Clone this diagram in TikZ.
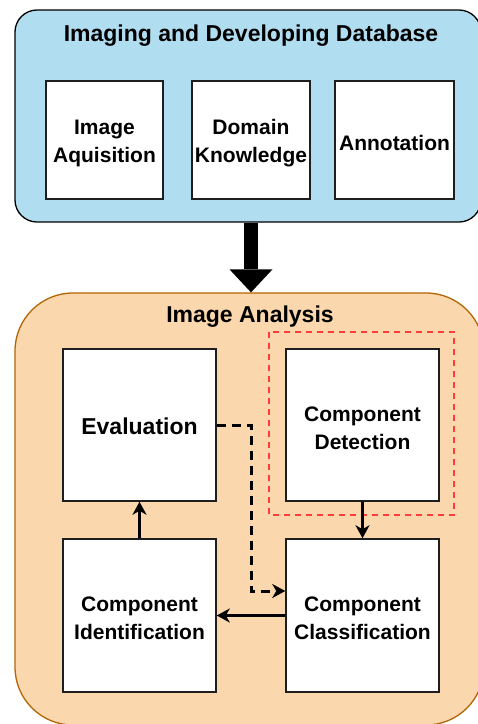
\documentclass[tikz,border=0pt]{standalone}
\usepackage{fontspec}
\setmainfont{Liberation Sans}
\usetikzlibrary{arrows.meta}
\definecolor{dbfill}{HTML}{B1DDF0}
\definecolor{iafill}{HTML}{FAD7AC}
\definecolor{iadraw}{HTML}{B46504}
\definecolor{hilite}{HTML}{FF3B3B}
\definecolor{boxline}{HTML}{1E1E1E}
\tikzset{
  panel/.style={rounded corners=#1, line width=1.3pt},
  stagebox/.style={draw=boxline, fill=white, line width=1.5pt, inner sep=0pt},
  boxtext/.style={align=center, inner sep=0pt, yshift=-3pt,
    font=\fontsize{21}{28}\selectfont\bfseries},
  paneltitle/.style={inner sep=0pt, font=\fontsize{23}{28}\selectfont\bfseries},
  flow/.style={line width=2.8pt, -{Stealth[length=13pt,width=14pt,inset=4pt]}},
  dashflow/.style={flow, line width=3pt, dash pattern=on 9pt off 6pt},
}
\begin{document}
\begin{tikzpicture}[x=1pt, y=-1pt]
\useasboundingbox (0,0) rectangle (478,724);
\clip (0,0) rectangle (478,724);

% database panel
\node[panel=22pt, draw=black, fill=dbfill, minimum width=466pt, minimum height=212pt,
      inner sep=0pt] (db) at (248,116) {};
\node[paneltitle] (dbtitle) at (251,36) {Imaging and Developing Database};
\node[stagebox, minimum width=117pt, minimum height=118pt] (acq) at (104.5,140) {};
\node[stagebox, minimum width=118pt, minimum height=118pt] (dom) at (251,140) {};
\node[stagebox, minimum width=119pt, minimum height=118pt] (ann) at (394.5,140) {};
\node[boxtext] (acqt) at (acq.center) {Image\\Aquisition};
\node[boxtext] (domt) at (dom.center) {Domain\\Knowledge};
\node[boxtext] (annt) at (ann.center) {Annotation};

% analysis panel
\node[panel=58pt, draw=iadraw, fill=iafill, minimum width=469pt, minimum height=432pt,
      inner sep=0pt] (ia) at (249.5,509) {};
\node[paneltitle] (iatitle) at (250,317) {Image Analysis};
\draw[hilite, line width=1.5pt, dash pattern=on 6pt off 5pt] (269,332) rectangle (454,515);
\node[stagebox, minimum width=153pt, minimum height=152pt] (ev) at (139.5,425) {};
\node[stagebox, minimum width=153pt, minimum height=152pt] (det) at (362.5,425) {};
\node[stagebox, minimum width=153pt, minimum height=153pt] (idf) at (139.5,615.5) {};
\node[stagebox, minimum width=153pt, minimum height=153pt] (cls) at (362.5,615.5) {};
\node[boxtext, yshift=2pt, font=\fontsize{23}{28}\selectfont\bfseries] (evt) at (ev.center) {Evaluation};
\node[boxtext] (dett) at (det.center) {Component\\Detection};
\node[boxtext] (idft) at (idf.center) {Component\\Identification};
\node[boxtext] (clst) at (cls.center) {Component\\Classification};

% database feeds the analysis
\coordinate (axis) at (251,0);
\draw[line width=14pt, -{Triangle[length=23pt,width=43pt,line width=0pt]}]
  (db.south -| axis) -- (ia.north -| axis);

% analysis flow
\draw[flow] (det.south) -- (cls.north);
\draw[flow] (cls.west) -- (idf.east);
\draw[flow] (idf.north) -- (ev.south);
\coordinate (turn) at (251,591);
\draw[dashflow] (ev.east) -| (turn) -- (turn -| cls.west);
\end{tikzpicture}
\end{document}
